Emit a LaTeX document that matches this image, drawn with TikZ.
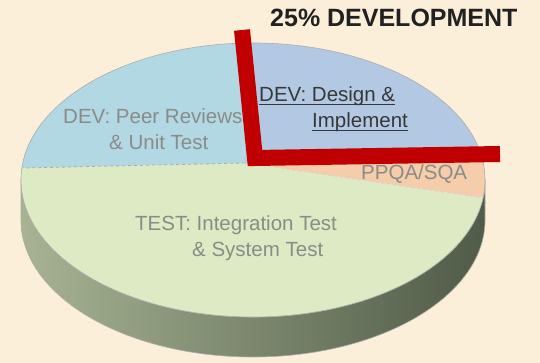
\documentclass[tikz,border=0pt]{standalone}
\usepackage{fontspec}
\setmainfont{Liberation Sans}
\usetikzlibrary{calc}
\definecolor{bgcream}{HTML}{FCEFD9}
\definecolor{devblue}{HTML}{B2D8E3}
\definecolor{dsgblue}{HTML}{B3C9E3}
\definecolor{testgreen}{HTML}{DDEAC3}
\definecolor{qaorange}{HTML}{F5CDAA}
\definecolor{sidelight}{HTML}{A7B393}
\definecolor{sidedark}{HTML}{505B48}
\definecolor{lblgray}{HTML}{898C89}
\definecolor{redbar}{HTML}{C00000}
\newcommand{\undl}[1]{\setbox0=\hbox{#1}\rlap{\rule[-3pt]{\wd0}{1.2pt}}\box0}

\begin{document}
\begin{tikzpicture}[x=1pt, y=1pt,
    rim/.style={draw=gray!65, line width=0.6pt},
    cut/.style={draw=gray!65, line width=0.8pt, dashed},
    lbl/.style={anchor=base west, inner sep=0pt, text=lblgray, font=\fontsize{20.5}{24}\selectfont},
    devlbl/.style={lbl, text=black!78}
]
\fill[bgcream] (0,0) rectangle (540,363);
\useasboundingbox (0,0) rectangle (540,363);
\coordinate (ctr) at (253,183);
\coordinate (tip) at (245,200);

% side of the pie
\shade[left color=sidelight, right color=sidedark, rim]
    ($(ctr)+(180:232 and 137)$) arc[start angle=180, end angle=360, x radius=232, y radius=137]
    -- ++(0,-40) arc[start angle=360, end angle=180, x radius=232, y radius=137] -- cycle;

% top face
\fill[dsgblue] (tip) -- ($(ctr)+(93:232 and 137)$)
    arc[start angle=93, end angle=13, x radius=232, y radius=137] -- cycle;
\fill[qaorange] (tip) -- ($(ctr)+(13:232 and 137)$)
    arc[start angle=13, end angle=-7.5, x radius=232, y radius=137] -- cycle;
\fill[testgreen] (tip) -- ($(ctr)+(-7.5:232 and 137)$)
    arc[start angle=-7.5, end angle=-185, x radius=232, y radius=137] -- cycle;
\fill[devblue] (tip) -- ($(ctr)+(175:232 and 137)$)
    arc[start angle=175, end angle=93, x radius=232, y radius=137] -- cycle;
\draw[rim] (ctr) ellipse[x radius=232, y radius=137];
\draw[cut] (tip) -- ($(ctr)+(175:232 and 137)$);
\draw[cut, gray!35] (tip) -- ($(ctr)+(-7.5:232 and 137)$);

% labels
\node[lbl] (peerA) at (63,239) {DEV: Peer Reviews};
\node[lbl] (peerB) at (109,213) {\& Unit Test};
\node[devlbl] (dsgA) at (259,261) {\undl{DEV: Design \&}};
\node[devlbl] (dsgB) at (312,235) {\undl{Implement}};
\node[lbl] (qa) at (361,183) {PPQA/SQA};
\node[lbl] (testA) at (135,132) {TEST: Integration Test};
\node[lbl] (testB) at (192,106) {\& System Test};

% the 25% mark
\draw[redbar, line width=16pt, miter limit=10] (242,333) -- (255,205) -- (500,209);
\node[anchor=base west, inner sep=0pt, text=black!87,
      font=\bfseries\fontsize{25}{30}\selectfont] (title) at (270,336) {25\% DEVELOPMENT};
\end{tikzpicture}
\end{document}
